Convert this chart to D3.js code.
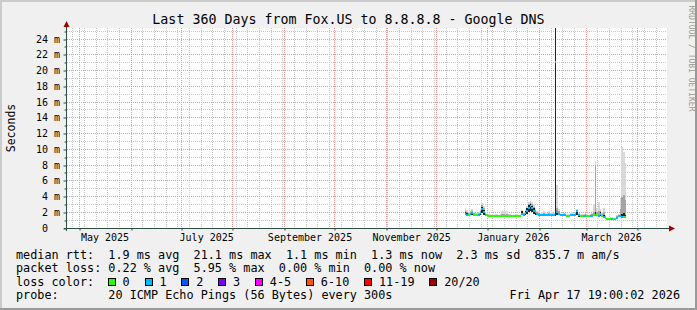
<!DOCTYPE html>
<html><head><meta charset="utf-8">
<script src="https://cdn.jsdelivr.net/npm/d3@7"></script>
<style>
html,body{margin:0;padding:0;background:#f0f0f0;overflow:hidden;}
svg{display:block;font-family:"DejaVu Sans Mono",monospace;}
text{white-space:pre;}
</style></head><body>
<svg id="c" width="697" height="310"></svg>
<script>
// ---------------- data ----------------
const titleText = "Last 360 Days from Fox.US to 8.8.8.8 - Google DNS";
const yAxisTitle = "Seconds";
const seriesStart = "2025-12-18";   // first consolidated sample (1 per day)
const stepDays = 1;
const medianMs = [
  1.8,1.7,1.7,1.8,1.9,1.7,1.6,1.6,1.7,1.9,2.4,2.0,1.7,1.6,
  1.55,1.55,1.5,1.5,1.55,1.55,1.5,1.5,1.55,1.55,1.5,1.5,1.55,1.55,1.5,1.5,1.55,1.55,1.5,1.55,
  1.8,1.7,1.9,2.2,2.6,2.8,2.5,2.2,2.0,1.8,1.7,
  1.65,1.6,1.6,1.65,1.6,1.6,1.65,1.6,1.65,21.1,2.0,1.8,
  1.6,1.6,1.65,1.6,1.55,1.55,1.6,1.6,1.6,1.7,2.1,
  1.6,1.55,1.55,1.5,1.55,1.5,1.55,1.5,1.55,1.6,1.7,1.6,1.5,1.8,1.5,1.4,1.3,
  1.15,1.1,1.15,1.2,1.15,1.1,1.3,1.5,1.5,1.45,1.35,1.35
];
const lossPings = [
  1,1,0,1,1,0,0,0,1,1,1,1,1,0,
  0,0,0,0,0,0,0,0,0,0,0,0,0,0,0,0,0,0,0,0,
  1,1,1,1,1,1,1,1,1,1,1,
  1,1,1,1,1,1,1,1,1,1,1,1,
  1,1,1,1,0,0,1,1,1,1,1,
  1,0,0,1,1,0,0,1,1,0,1,0,1,1,0,1,0,
  0,0,0,1,0,0,1,1,1,1,0,0
];
const minMs = [
  1.6,1.6,1.6,1.6,1.7,1.6,1.5,1.5,1.6,1.7,1.9,1.7,1.6,1.5,
  1.45,1.45,1.45,1.45,1.45,1.45,1.45,1.45,1.45,1.45,1.45,1.45,1.45,1.45,1.45,1.45,1.45,1.45,1.45,1.45,
  1.6,1.6,1.7,1.8,2.0,2.2,2.0,1.8,1.7,1.6,1.6,
  1.55,1.55,1.55,1.55,1.55,1.55,1.55,1.55,1.55,1.5,1.7,1.6,
  1.5,1.5,1.5,1.5,1.5,1.5,1.5,1.5,1.5,1.6,1.7,
  1.45,1.45,1.45,1.45,1.45,1.45,1.45,1.45,1.45,1.5,1.5,1.5,1.4,1.5,1.4,1.3,1.2,
  1.05,1.05,1.05,1.05,1.05,1.05,1.2,1.4,1.4,1.3,1.25,1.25
];
const p75Ms = [
  2.0,1.9,1.8,1.9,2.0,1.8,1.7,1.7,1.8,2.0,2.7,2.3,1.8,1.65,
  1.65,1.6,1.55,1.55,1.6,1.6,1.55,1.6,1.6,1.6,1.6,1.6,1.6,1.6,1.55,1.55,1.6,1.6,1.55,1.6,
  2.2,1.8,2.1,2.5,2.9,3.0,2.8,2.5,2.2,1.9,1.8,
  1.7,1.7,1.7,1.7,1.7,1.7,1.7,1.7,1.7,26,2.2,1.9,
  1.7,1.65,1.7,1.7,1.6,1.6,1.7,1.7,1.7,1.8,2.3,
  1.7,1.6,1.6,1.6,1.65,1.6,1.6,1.6,1.65,1.7,2.0,1.7,1.7,2.0,1.6,1.6,1.4,
  1.2,1.2,1.2,1.25,1.2,1.15,1.4,1.6,1.7,1.8,1.9,1.7
];
const p90Ms = [
  2.2,2.0,1.9,2.0,2.2,1.9,1.8,1.8,1.9,2.2,2.9,2.5,1.9,1.7,
  1.7,1.7,1.6,1.6,1.7,1.7,1.6,1.7,1.8,1.8,1.7,1.8,1.7,1.7,1.6,1.6,1.7,1.7,1.6,1.7,
  2.2,1.9,2.2,2.6,3.1,3.2,3.0,2.7,2.3,2.0,1.9,
  1.8,1.8,1.9,1.8,1.8,1.9,1.8,1.8,1.8,26,2.6,2.1,
  1.8,1.7,1.8,1.8,1.7,1.7,1.8,1.8,1.8,1.9,2.3,
  1.8,1.7,1.7,1.7,1.8,1.7,1.6,1.7,1.8,2.0,8.0,2.0,2.2,2.2,1.8,2.0,1.5,
  1.25,1.25,1.3,1.3,1.25,1.2,1.5,1.7,2.4,4.0,4.2,3.5
];
const maxMs = [
  2.6,2.3,2.0,2.1,2.4,2.0,1.9,1.9,2.0,2.4,3.2,2.8,2.0,1.8,
  1.8,1.8,1.7,1.7,1.8,1.8,1.7,1.8,2.2,2.2,2.1,2.2,1.8,1.8,1.7,1.7,1.8,1.8,1.7,1.8,
  2.3,2.0,2.4,2.8,3.3,3.4,3.3,3.0,2.5,2.2,2.1,
  1.9,2.0,2.1,2.0,1.9,2.1,1.9,2.0,1.9,26,5.5,2.4,
  1.9,1.8,1.9,1.9,1.8,1.8,1.9,2.0,1.9,2.0,2.4,
  1.9,1.8,1.8,1.8,1.9,1.8,1.7,1.8,1.9,3.0,8.5,2.6,3.3,2.4,2.0,2.5,1.6,
  1.3,1.3,1.4,1.4,1.3,1.3,1.6,1.8,3.8,10.3,9.7,8.2
];
const yMajorTicks = [0,2,4,6,8,10,12,14,16,18,20,22,24];
const yMinorTicks = [1,3,5,7,9,11,13,15,17,19,21,23,25];
const monthLabelDates = ["2025-05-16","2025-07-16","2025-09-16","2025-11-16","2026-01-16","2026-03-16"];
const lossLabels = ["0","1","2","3","4-5","6-10","11-19","20/20"];
const lossColors = ["#26ff00","#00b8ff","#0059ff","#7e00ff","#ff00ff","#ff5500","#ff0000","#a10000"];
const rttStats = ["1.9 ms avg","21.1 ms max","1.1 ms min","1.3 ms now","2.3 ms sd","835.7 m am/s"];
const lossStats = ["0.22 % avg","5.95 % max","0.00 % min","0.00 % now"];
const probeText = "20 ICMP Echo Pings (56 Bytes) every 300s";
const stampText = "Fri Apr 17 19:00:02 2026";

// ---------------- layout ----------------
const W = 697, H = 310;
const X0 = 67, X1 = 667, YB = 228, YT = 28;
const DAY = 864e5;
const svg = d3.select("#c");
const c = v => Math.floor(v) + 0.5;

const x = d3.scaleUtc()
  .domain([new Date(Date.UTC(2025,3,23,12)), new Date(Date.UTC(2026,3,18,12))])
  .range([X0, X1]);
const y = d3.scaleLinear().domain([0, 25.4]).range([YB, YT]);

// background + 3D border
svg.append("rect").attr("width",W).attr("height",H).attr("fill","#f0f0f0");
svg.append("rect").attr("x",0).attr("y",0).attr("width",W).attr("height",2).attr("fill","#cbcbcb");
svg.append("rect").attr("x",0).attr("y",0).attr("width",2).attr("height",H).attr("fill","#cbcbcb");
svg.append("rect").attr("x",0).attr("y",H-2).attr("width",W).attr("height",2).attr("fill","#999");
svg.append("rect").attr("x",W-2).attr("y",0).attr("width",2).attr("height",H).attr("fill","#999");

// canvas
svg.append("rect").attr("x",X0).attr("y",YT).attr("width",X1-X0).attr("height",YB-YT).attr("fill","#ffffff");

// grid
const grid = svg.append("g").attr("fill","none").attr("stroke-dasharray","1,1");
const weeks = d3.utcSunday.range(x.domain()[0], x.domain()[1]);
const months = d3.utcMonth.range(x.domain()[0], x.domain()[1]);
grid.selectAll(".wk").data(weeks).join("line")
  .attr("x1",d=>c(x(d))).attr("x2",d=>c(x(d))).attr("y1",YT).attr("y2",YB)
  .attr("stroke","#c8c8c8");
grid.selectAll(".hm").data(yMinorTicks).join("line")
  .attr("x1",X0).attr("x2",X1).attr("y1",d=>c(y(d))).attr("y2",d=>c(y(d)))
  .attr("stroke","#c8c8c8");
grid.selectAll(".mo").data(months).join("line")
  .attr("x1",d=>c(x(d))).attr("x2",d=>c(x(d))).attr("y1",YT).attr("y2",YB)
  .attr("stroke","#f09898");
grid.selectAll(".hM").data(yMajorTicks.filter(v=>v>0)).join("line")
  .attr("x1",X0).attr("x2",X1).attr("y1",d=>c(y(d))).attr("y2",d=>c(y(d)))
  .attr("stroke","#f09898");

// data
const t0 = d3.utcParse("%Y-%m-%d")(seriesStart).getTime();
const rows = medianMs.map((m,i)=>({
  t: new Date(t0 + i*stepDays*DAY), t1: new Date(t0 + (i+1)*stepDays*DAY),
  med: m, loss: lossPings[i], lo: minMs[i], q75: p75Ms[i], q90: p90Ms[i], hi: maxMs[i]
}));
svg.append("clipPath").attr("id","clip").append("rect")
  .attr("x",X0).attr("y",YT).attr("width",X1-X0).attr("height",YB-YT);
const plot = svg.append("g").attr("clip-path","url(#clip)").attr("shape-rendering","crispEdges");
function band(key, color){
  plot.append("g").selectAll("rect").data(rows).join("rect")
    .attr("x",d=>x(d.t)).attr("width",d=>x(d.t1)-x(d.t))
    .attr("y",d=>y(d[key])).attr("height",d=>Math.max(0,y(d.lo)-y(d[key])))
    .attr("fill",color);
}
band("hi","#d8d8d8");
band("q90","#a4a4a4");
band("q75","#242424");
function lossIndex(l){
  if (l<=3) return l;
  if (l<=5) return 4;
  if (l<=10) return 5;
  if (l<=19) return 6;
  return 7;
}
plot.append("g").selectAll("rect").data(rows).join("rect")
  .attr("x",d=>x(d.t)).attr("width",d=>x(d.t1)-x(d.t))
  .attr("y",d=>y(d.med)-1).attr("height",2)
  .attr("fill",d=>lossColors[lossIndex(d.loss)]);

// axes
const axisColor = "#2c4d43";
const yTicksAxis = svg.append("g").attr("transform",`translate(${X0-0.5},0)`)
  .call(d3.axisLeft(y).tickValues(yMajorTicks).tickSize(3).tickFormat(""));
yTicksAxis.select(".domain").remove();
yTicksAxis.selectAll("line").attr("stroke",axisColor)
  .attr("y1",d=>c(y(d))-y(d)).attr("y2",d=>c(y(d))-y(d));
const yMinAxis = svg.append("g").attr("transform",`translate(${X0-0.5},0)`)
  .call(d3.axisLeft(y).tickValues(yMinorTicks).tickSize(2).tickFormat(""));
yMinAxis.select(".domain").remove();
yMinAxis.selectAll("line").attr("stroke",axisColor)
  .attr("y1",d=>c(y(d))-y(d)).attr("y2",d=>c(y(d))-y(d));

const yLab = svg.append("g").attr("transform","translate(60,0)")
  .call(d3.axisLeft(y).tickValues(yMajorTicks).tickSize(0).tickPadding(0)
    .tickFormat(v => v===0 ? "0  " : v + " m"));
yLab.select(".domain").remove();
yLab.attr("font-family","DejaVu Sans Mono").attr("font-size",10);
yLab.selectAll("text").attr("fill","#000").attr("xml:space","preserve");

const xTicks = svg.append("g").attr("transform",`translate(0,${YB+0.5})`)
  .call(d3.axisBottom(x).tickValues(months).tickSize(2).tickFormat(""));
xTicks.select(".domain").remove();
xTicks.selectAll("line").attr("stroke",axisColor)
  .attr("x1",d=>c(x(d))-x(d)).attr("x2",d=>c(x(d))-x(d));
const xLab = svg.append("g").attr("transform",`translate(0,${YB})`)
  .call(d3.axisBottom(x).tickValues(monthLabelDates.map(d3.utcParse("%Y-%m-%d")))
    .tickSize(0).tickPadding(6).tickFormat(d3.utcFormat("%B %Y")));
xLab.select(".domain").remove();
xLab.attr("font-family","DejaVu Sans Mono").attr("font-size",10);
xLab.selectAll("text").attr("fill","#000");

// axis lines + arrows
svg.append("line").attr("x1",X0-3).attr("x2",X1+3).attr("y1",YB+0.5).attr("y2",YB+0.5).attr("stroke",axisColor);
svg.append("line").attr("x1",X0-0.5).attr("x2",X0-0.5).attr("y1",YB+3).attr("y2",YT-2).attr("stroke",axisColor);
svg.append("path").attr("d",`M${X0-3.5},${YT-1}L${X0+2.5},${YT-1}L${X0-0.5},${YT-7}Z`).attr("fill","#a00000");
svg.append("path").attr("d",`M${X1+2},${YB-2.5}L${X1+2},${YB+3.5}L${X1+8},${YB+0.5}Z`).attr("fill","#a00000");

// titles
svg.append("text").attr("x",W/2).attr("y",24).attr("text-anchor","middle")
  .attr("font-size",13.3).attr("fill","#000").text(titleText);
svg.append("text").attr("transform",`translate(14.5,${(YT+YB)/2}) rotate(-90)`)
  .attr("text-anchor","middle").attr("font-size",11.5).attr("fill","#000").text(yAxisTitle);
svg.append("text").attr("transform","translate(688.5,58.5) rotate(90)")
  .attr("text-anchor","middle").attr("font-size",8).attr("fill","#999").text("RRDTOOL / TOBI OETIKER");

// legend
const lg = svg.append("g").attr("font-size",11.8).attr("fill","#000");
const rowY = [258.5,272,285.7,299.3];
const row = (s, yy) => lg.append("text").attr("x",16).attr("y",yy).attr("xml:space","preserve").text(s);
row("median rtt:  " + rttStats.join("  "), rowY[0]);
row("packet loss: " + lossStats.join("  "), rowY[1]);
row("loss color:", rowY[2]);
let bx = 108.3;
lossLabels.forEach((s,i)=>{
  lg.append("rect").attr("x",Math.floor(bx)+0.5).attr("y",278.5).attr("width",7).attr("height",7)
    .attr("fill",lossColors[i]).attr("stroke","#000");
  const t = lg.append("text").attr("x",bx+14.3).attr("y",rowY[2]).text(s);
  bx = bx + 14.3 + t.node().getComputedTextLength() + 15.4;
});
row("probe:       " + probeText, rowY[3]);
lg.append("text").attr("x",680).attr("y",rowY[3]).attr("text-anchor","end").text(stampText);
</script>
</body></html>
